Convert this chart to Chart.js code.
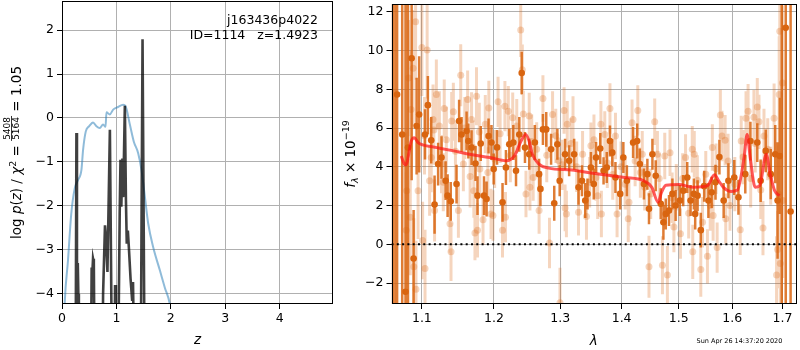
<!DOCTYPE html>
<html>
<head>
<meta charset="utf-8">
<script src="https://cdn.jsdelivr.net/npm/chart.js@4.4.1/dist/chart.umd.min.js"></script>
<style>
  html, body { margin: 0; padding: 0; background: #fff; }
  #wrap { position: relative; width: 800px; height: 350px; }
  #pz { position: absolute; left: 0; top: 0; }
  #sp { position: absolute; left: 340px; top: 0; }
</style>
</head>
<body>
<div id="wrap">
  <canvas id="pz" width="340" height="350"></canvas>
  <canvas id="sp" width="460" height="350"></canvas>
</div>
<script>
// ---- left panel: log p(z) ----
const zTicks = [0, 1, 2, 3, 4];
const logpTicks = [-4, -3, -2, -1, 0, 1, 2];

const zBlue = [0.03, 0.05, 0.11, 0.17, 0.234, 0.295, 0.357, 0.387, 0.436, 0.497,
  0.571, 0.633, 0.694, 0.755, 0.80, 0.817, 0.878, 0.94, 1.03, 1.123,
  1.167, 1.247, 1.32, 1.4, 1.46, 1.52, 1.584, 1.676, 1.8, 1.89, 1.983, 2.02];
const logpBlue = [-5, -4.2, -3.24, -2.18, -1.6, -1.41, -1.18, -0.73, -0.31, -0.19,
  -0.1, -0.19, -0.23, -0.15, -0.2, 0.13, 0.08, 0.19, 0.25, 0.3,
  0.27, -0.15, -0.54, -0.8, -1.18, -1.76, -2.4, -2.94, -3.47, -3.86, -4.24, -4.6];

const zDark = [0, 0.25, 0.265, 0.275, 0.28, 0.29, 0.30, 0.31, 0.53, 0.545,
  0.555, 0.57, 0.585, 0.60, 0.74, 0.755, 0.79, 0.81, 0.835, 0.88,
  0.92, 0.965, 0.975, 0.99, 1.03, 1.06, 1.075, 1.09, 1.11, 1.125,
  1.155, 1.175, 1.19, 1.21, 1.23, 1.26, 1.29, 1.305, 1.33, 1.452,
  1.48, 1.512, 4.98];
const logpDark = [-6, -6, -0.34, -3.24, -3.9, -3.3, -4.0, -6, -6, -3.4,
  -3.6, -3.2, -3.3, -6, -6, -4.0, -2.44, -2.75, -3.5, -0.27,
  -6, -6, -3.8, -6, -6, -2.2, -0.95, -2.02, -0.92, -1.8,
  0.28, -1.87, -2.86, -2.56, -2.97, -3.66, -4.16, -3.73, -6, -4.6,
  1.79, -4.6, -6];

// ---- right panel: spectrum ----
const lamTicks = [1.1, 1.2, 1.3, 1.4, 1.5, 1.6, 1.7];
const fluxTicks = [-2, 0, 2, 4, 6, 8, 10, 12];

const lamHi = [1.0621, 1.0654, 1.0676, 1.0742, 1.0785, 1.0817, 1.0865, 1.0891, 1.093, 1.0964,
  1.1042, 1.108, 1.1125, 1.117, 1.1218, 1.1264, 1.132, 1.1347, 1.139, 1.147,
  1.1506, 1.154, 1.161, 1.1635, 1.168, 1.1736, 1.1764, 1.181, 1.1857, 1.1894,
  1.1922, 1.1964, 1.1996, 1.2045, 1.2125, 1.2175, 1.2224, 1.2284, 1.2324, 1.2373,
  1.2409, 1.2458, 1.2522, 1.2607, 1.2672, 1.2693, 1.2731, 1.2782, 1.2857, 1.2906,
  1.2955, 1.2991, 1.3076, 1.314, 1.322, 1.329, 1.3345, 1.3398, 1.3435, 1.349,
  1.3537, 1.3574, 1.3643, 1.3698, 1.3751, 1.3804, 1.3843, 1.3896, 1.3976, 1.4029,
  1.4089, 1.4195, 1.4265, 1.4311, 1.4382, 1.4442, 1.447, 1.453, 1.4588, 1.4677,
  1.4724, 1.4766, 1.4824, 1.4885, 1.4943, 1.5019, 1.508, 1.5154, 1.5215, 1.5276,
  1.5300, 1.5344, 1.5404, 1.5467, 1.5546, 1.5607, 1.568, 1.5754, 1.5835, 1.5926,
  1.6039, 1.612, 1.6254, 1.6355, 1.6491, 1.6558, 1.666, 1.6761, 1.6852, 1.69,
  1.6945, 1.6985, 1.7067, 1.7168];
const fluxHi = [14, -4, 7.73, 5.67, -2.45, 4.99, 9.6, -0.73, 6.1, 6.7,
  5.67, 7.18, 5.37, 2.05, 4.14, 4.48, 3.28, 2.51, 2.22, 3.11,
  6.36, 5.67, 5.85, 5.33, 4.99, 4.17, 2.51, 5.2, 2.51, 2.34,
  5.59, 5.25, 3.88, 5.0, 2.17, 3.96, 5.16, 5.25, 3.79, 5.67,
  8.84, 4.99, 4.65, 5.25, 3.62, 2.86, 5.93, 5.93, 4.9, 2.12,
  5.16, 3.28, 4.65, 4.31, 4.65, 2.94, 3.28, 2.26, 2.6, 3.96,
  3.11, 4.48, 4.94, 3.79, 3.96, 5.33, 4.73, 3.45, 2.6, 4.48,
  3.28, 5.25, 5.33, 4.14, 3.11, 3.62, 1.83, 4.65, 3.54, 2.09,
  1.14, 1.57, 1.74, 2.6, 2.0, 2.26, 2.77, 3.45, 2.26, 2.6,
  1.57, 2.51, 0.73, 3.0, 2.26, 2.68, 3.2, 4.5, 2.26, 3.28,
  3.45, 2.43, 3.62, 5.33, 5.25, 3.28, 4.82, 3.62, 4.65, 2.26,
  4.56, -4, 11.17, 1.69];
const errHi = [20, 20, 20, 20, 20, 20, 6.3, 2.5, 2.5, 3.0,
  1.3, 1.5, 1.2, 1.5, 1.1, 1.1, 1.0, 1.1, 1.0, 1.0,
  1.1, 0.9, 1.0, 0.9, 0.9, 0.9, 1.0, 0.9, 1.0, 0.9,
  0.9, 0.9, 0.8, 0.9, 1.0, 0.9, 0.8, 0.9, 0.8, 0.9,
  1.1, 0.8, 0.8, 0.9, 0.8, 0.9, 0.8, 0.9, 0.8, 0.9,
  0.8, 0.8, 0.8, 0.8, 0.8, 0.9, 0.8, 0.9, 0.8, 0.8,
  0.8, 0.8, 0.8, 0.7, 0.8, 0.8, 0.7, 0.8, 0.8, 0.8,
  0.8, 0.8, 0.9, 0.8, 0.8, 0.8, 0.8, 0.8, 0.8, 0.8,
  0.9, 0.8, 0.8, 0.8, 0.8, 0.8, 0.8, 0.8, 0.8, 0.8,
  0.8, 0.8, 0.9, 0.8, 0.9, 0.8, 0.9, 0.9, 0.9, 0.9,
  0.9, 0.9, 1.0, 1.0, 1.0, 1.1, 1.1, 1.3, 1.5, 3.0,
  3.0, 20, 20, 20];

const lamLo = [1.0801, 1.0795, 1.0825, 1.0847, 1.0857, 1.0885, 1.0894, 1.0917, 1.0922, 1.095,
  1.1, 1.101, 1.1042, 1.107, 1.1103, 1.1125, 1.1149, 1.117, 1.1194, 1.1264,
  1.1288, 1.1301, 1.138, 1.1394, 1.1403, 1.1426, 1.1496, 1.1528, 1.1565, 1.1625,
  1.168, 1.1704, 1.1712, 1.1728, 1.175, 1.1764, 1.1797, 1.1843, 1.1912, 1.1926,
  1.1958, 1.1986, 1.206, 1.2125, 1.216, 1.2168, 1.221, 1.2275, 1.2394, 1.2418,
  1.2433, 1.2473, 1.2522, 1.2533, 1.2582, 1.2672, 1.2731, 1.2832, 1.288, 1.2976,
  1.2996, 1.306, 1.3076, 1.3097, 1.311, 1.3202, 1.329, 1.3355, 1.3418, 1.349,
  1.3574, 1.3601, 1.3654, 1.3662, 1.3718, 1.3804, 1.3896, 1.3923, 1.4112, 1.4125,
  1.4177, 1.4276, 1.4353, 1.4395, 1.447, 1.457, 1.4618, 1.4707, 1.4748, 1.4795,
  1.4842, 1.4912, 1.4955, 1.503, 1.5123, 1.5246, 1.5255, 1.5283, 1.5404, 1.5436,
  1.5497, 1.5528, 1.562, 1.5635, 1.5711, 1.5772, 1.5803, 1.5863, 1.5875, 1.5956,
  1.6155, 1.6174, 1.6268, 1.6309, 1.6424, 1.6491, 1.6525, 1.6605, 1.6625, 1.6761,
  1.6829, 1.6879, 1.69, 1.6917, 1.6933, 1.6945, 1.6955, 1.7, 1.7008,
  1.1035, 1.1160, 1.1235, 1.1330, 1.1455, 1.1585, 1.1660, 1.1790, 1.1875, 1.2010,
  1.2090, 1.2240, 1.2335, 1.2560, 1.2635, 1.2790, 1.2930, 1.3030, 1.3170, 1.3260,
  1.3470, 1.3540, 1.3760, 1.3850, 1.3990, 1.4060, 1.4230, 1.4320, 1.4500, 1.4650,
  1.4880, 1.5070, 1.5180, 1.5340, 1.5580, 1.5690, 1.5920, 1.6050, 1.6210, 1.6360,
  1.6450, 1.6560, 1.6700];
const fluxLo = [2.77, 0.72, 8.58, 1.4, 6.96, 9.09, -1.16, 11.49, -2.32, 2.77,
  10.15, 0.2, -1.25, 10.03, 3.28, 4.48, 6.44, 1.74, 7.73, 4.14,
  3.2, 7.01, 1.06, -0.39, 6.36, 6.84, 1.74, 8.72, 4.14, 7.47,
  6.44, 4.99, 2.77, 0.58, 7.64, 0.72, 3.88, 1.27, 3.71, 7.04,
  1.57, 1.49, 7.35, 0.72, 7.13, 1.4, 6.87, 6.53, 11.06, 9.01,
  6.73, 2.6, 6.62, 2.94, 3.45, 1.74, 7.52, 0.07, 6.7, 4.31,
  -3.01, 6.91, 1.88, 1.57, 6.19, 6.44, 1.66, 4.65, 1.44, 5.08,
  3.45, 2.51, 6.19, 1.57, 5.67, 7.01, 5.59, 1.57, 1.32, 2.17,
  6.27, 6.91, 4.65, 2.94, -1.16, 6.32, 4.65, -1.08, 4.56, -1.59,
  4.73, 0.89, 2.94, 0.55, 4.48, 4.9, -0.39, 4.65, -1.3, 1.14,
  3.62, -0.62, 4.99, 1.49, -0.17, 6.67, 5.59, 5.37, 1.32, 2.0,
  0.75, 5.33, 6.5, 6.87, 6.56, 7.08, 6.32, 0.84, 5.59, 3.54,
  6.5, -1.59, -0.27, 2.6, 7.73, 11.0, -0.99, 8.32, 2.26,
  5.6, 5.9, 6.1, 5.4, 4.8, 6.0, 3.5, 5.8, 6.2, 4.4,
  5.7, 4.6, 6.1, 5.3, 4.9, 4.6, 5.6, 4.1, 5.2, 4.0,
  3.2, 5.4, 4.2, 3.6, 4.0, 3.1, 4.3, 3.7, 2.6, 3.4,
  2.4, 3.4, 1.6, 3.3, 2.0, 3.9, 4.3, 3.1, 4.5, 3.4,
  5.2, 2.8, 4.9];
const errLo = [3.0, 3.0, 3.0, 3.0, 3.0, 3.0, 2.5, 3.0, 2.5, 2.5,
  2.5, 2.0, 2.0, 2.5, 1.8, 1.8, 1.8, 1.6, 1.8, 1.5,
  1.5, 1.5, 1.5, 1.5, 1.5, 1.5, 1.4, 1.6, 1.4, 1.5,
  1.4, 1.4, 1.4, 1.4, 1.5, 1.4, 1.3, 1.3, 1.3, 1.4,
  1.3, 1.3, 1.3, 1.4, 1.3, 1.3, 1.3, 1.3, 1.4, 1.3,
  1.2, 1.2, 1.2, 1.2, 1.2, 1.2, 1.2, 1.3, 1.2, 1.2,
  1.8, 1.2, 1.2, 1.2, 1.2, 1.2, 1.2, 1.2, 1.2, 1.2,
  1.2, 1.2, 1.2, 1.2, 1.2, 1.3, 1.2, 1.2, 1.2, 1.2,
  1.2, 1.3, 1.2, 1.2, 1.6, 1.2, 1.2, 1.5, 1.2, 1.5,
  1.2, 1.3, 1.2, 1.3, 1.2, 1.2, 1.4, 1.2, 1.4, 1.3,
  1.2, 1.4, 1.2, 1.3, 1.3, 1.3, 1.3, 1.3, 1.3, 1.3,
  1.3, 1.3, 1.4, 1.4, 1.4, 1.5, 1.4, 1.4, 1.4, 1.5,
  1.8, 2.0, 2.0, 2.5, 3.0, 4.0, 3.0, 4.0, 4.0,
  2.0, 1.8, 1.8, 1.7, 1.6, 1.6, 1.6, 1.5, 1.5, 1.5,
  1.5, 1.4, 1.4, 1.4, 1.4, 1.4, 1.4, 1.3, 1.3, 1.3,
  1.3, 1.3, 1.3, 1.3, 1.3, 1.3, 1.3, 1.3, 1.3, 1.3,
  1.3, 1.3, 1.3, 1.3, 1.3, 1.3, 1.4, 1.4, 1.4, 1.5,
  1.5, 1.5, 1.6];

const lamModel = [1.073, 1.077, 1.079, 1.086, 1.090, 1.095, 1.101, 1.120, 1.143, 1.165,
  1.194, 1.218, 1.230, 1.240, 1.247, 1.252, 1.257, 1.267, 1.282, 1.318,
  1.352, 1.405, 1.438, 1.452, 1.463, 1.469, 1.477, 1.500, 1.526, 1.553,
  1.566, 1.574, 1.583, 1.598, 1.610, 1.623, 1.629, 1.635, 1.645, 1.654,
  1.667, 1.675, 1.684, 1.694];
const fluxModel = [4.56, 4.14, 4.10, 5.33, 5.50, 5.25, 5.13, 4.99, 4.82, 4.65,
  4.48, 4.31, 4.56, 5.33, 5.67, 5.33, 4.65, 4.14, 3.93, 3.83,
  3.67, 3.45, 3.28, 2.94, 2.17, 2.68, 3.05, 3.08, 2.95, 3.03,
  3.59, 3.28, 2.94, 2.73, 2.80, 4.48, 5.67, 4.48, 2.94, 3.03,
  4.65, 3.62, 2.77, 2.51];

const stamp = "Sun Apr 26 14:37:20 2020";

// ---- helpers ----
const FONT = "DejaVu Sans";
const TICK = 12.5;
const ORANGE = "rgb(217,101,16)";

function pts(xs, ys) {
  return xs.map((x, i) => ({ x: x, y: ys[i] }));
}

function errSegments(xs, ys, es) {
  const d = [];
  for (let i = 0; i < xs.length; i++) {
    d.push({ x: xs[i], y: ys[i] - es[i] });
    d.push({ x: xs[i], y: ys[i] + es[i] });
    d.push({ x: xs[i], y: null });
  }
  return d;
}

function minus(v) {
  return String(v).replace("-", "\u2212");
}

// fixed-size axes, no extra padding for edge labels
function fixSize(w, h) {
  return (s) => {
    if (w !== null) s.width = w;
    if (h !== null) s.height = h;
    s.paddingTop = 0; s.paddingBottom = 0;
    s.paddingLeft = 0; s.paddingRight = 0;
  };
}

function axisStyle(extra) {
  return Object.assign({
    grid: { color: "#b0b0b0", lineWidth: 1, tickColor: "#000", tickLength: 5, tickWidth: 1 },
    border: { display: false }
  }, extra);
}

function tickOpts(pad, cb) {
  return { color: "#000", font: { family: FONT, size: TICK }, padding: pad,
    autoSkip: false, maxRotation: 0, minRotation: 0, callback: cb };
}

// draw pieces of "math" text along a baseline; returns total width
function runPieces(ctx, pieces, x0, draw) {
  let x = x0;
  for (const p of pieces) {
    if (p.frac) {
      ctx.font = p.size + "px " + FONT;
      const w = Math.max(ctx.measureText(p.num).width, ctx.measureText(p.den).width) + 2;
      if (draw) {
        ctx.textAlign = "center";
        ctx.fillText(p.num, x + w / 2, p.numDy);
        ctx.fillText(p.den, x + w / 2, p.denDy);
        ctx.fillRect(x, p.barDy - 0.4, w, 0.8);
        ctx.textAlign = "left";
      }
      x += w;
      continue;
    }
    ctx.font = (p.it ? "italic " : "") + (p.size || 13.5) + "px " + FONT;
    if (draw) ctx.fillText(p.t, x, p.dy || 0);
    x += ctx.measureText(p.t).width;
  }
  return x - x0;
}

function verticalLabel(ctx, pieces, bx, cy) {
  ctx.save();
  ctx.translate(bx, cy);
  ctx.rotate(-Math.PI / 2);
  ctx.fillStyle = "#000";
  ctx.textBaseline = "alphabetic";
  ctx.textAlign = "left";
  const w = runPieces(ctx, pieces, 0, false);
  runPieces(ctx, pieces, -w / 2, true);
  ctx.restore();
}

const frame = {
  id: "frame",
  afterDatasetsDraw(chart) {
    const a = chart.chartArea;
    const ctx = chart.ctx;
    ctx.save();
    ctx.strokeStyle = "#000";
    ctx.lineWidth = 1;
    ctx.strokeRect(Math.round(a.left) + 0.5, Math.round(a.top) + 0.5,
      Math.round(a.right - a.left) - 1, Math.round(a.bottom - a.top) - 1);
    ctx.restore();
  }
};

Chart.defaults.font.family = FONT;

// ---- left chart ----
const pzLabels = {
  id: "pzLabels",
  afterDraw(chart) {
    const ctx = chart.ctx;
    ctx.save();
    ctx.fillStyle = "#000";
    ctx.font = "12.5px " + FONT;
    ctx.textAlign = "right";
    ctx.textBaseline = "alphabetic";
    ctx.fillText("j163436p4022", 318, 24);
    ctx.fillText("ID=1114   z=1.4923", 318, 39);
    ctx.textAlign = "center";
    ctx.font = "italic 13.5px " + FONT;
    ctx.fillText("z", (chart.chartArea.left + chart.chartArea.right) / 2, 344);
    ctx.restore();
    verticalLabel(ctx, [
      { t: "log " }, { t: "p", it: true }, { t: "(" }, { t: "z", it: true }, { t: ") / " },
      { t: "\u03c7", it: true }, { t: "2", size: 9.5, dy: -5.5 }, { t: " = " },
      { frac: true, num: "5408", den: "5164", size: 9, numDy: -10.8, denDy: -2.2, barDy: -9.6 },
      { t: " = 1.05" }
    ], 21, (chart.chartArea.top + chart.chartArea.bottom) / 2);
  }
};

new Chart(document.getElementById("pz"), {
  type: "line",
  data: {
    datasets: [
      { data: pts(zDark, logpDark), borderColor: "rgba(0,0,0,0.75)", borderWidth: 2.6,
        pointRadius: 0, tension: 0, clip: 0, order: 1 },
      { data: pts(zBlue, logpBlue), borderColor: "rgba(31,119,180,0.5)", borderWidth: 2,
        pointRadius: 0, cubicInterpolationMode: "monotone", clip: 0, order: 2 }
    ]
  },
  options: {
    responsive: false,
    animation: false,
    devicePixelRatio: 1,
    layout: { padding: { left: 0, top: 1, right: 7, bottom: 0 } },
    plugins: { legend: { display: false }, tooltip: { enabled: false } },
    scales: {
      x: axisStyle({
        type: "linear", min: 0, max: 4.98,
        afterBuildTicks: (s) => { s.ticks = zTicks.map((v) => ({ value: v })); },
        afterFit: fixSize(null, 46),
        ticks: tickOpts(2, (v) => minus(v))
      }),
      y: axisStyle({
        type: "linear", min: -4.23, max: 2.66,
        afterBuildTicks: (s) => { s.ticks = logpTicks.map((v) => ({ value: v })); },
        afterFit: fixSize(62, null),
        ticks: tickOpts(3, (v) => minus(v))
      })
    }
  },
  plugins: [frame, pzLabels]
});

// ---- right chart ----
const spLabels = {
  id: "spLabels",
  afterDraw(chart) {
    const ctx = chart.ctx;
    ctx.save();
    ctx.fillStyle = "#000";
    ctx.textAlign = "center";
    ctx.textBaseline = "alphabetic";
    ctx.font = "italic 13.5px " + FONT;
    ctx.fillText("\u03bb", (chart.chartArea.left + chart.chartArea.right) / 2, 345);
    ctx.textAlign = "left";
    ctx.font = "6.5px " + FONT;
    ctx.fillText(stamp, 356.5, 342.5);
    ctx.restore();
    verticalLabel(ctx, [
      { t: "f", it: true }, { t: "\u03bb", it: true, size: 9.5, dy: 3 }, { t: " \u00d7 10" },
      { t: "\u221219", size: 9.5, dy: -5.5 }
    ], 14.5, (chart.chartArea.top + chart.chartArea.bottom) / 2);
  }
};

const xMin = 1.0604, xMax = 1.728;

new Chart(document.getElementById("sp"), {
  type: "line",
  data: {
    datasets: [
      { data: [{ x: xMin, y: 0 }, { x: xMax, y: 0 }], borderColor: "#000", borderWidth: 2,
        borderDash: [2, 3.3], pointRadius: 0, clip: 0, order: 1 },
      { data: pts(lamModel, fluxModel), borderColor: "rgba(255,20,20,0.7)", borderWidth: 3,
        pointRadius: 0, cubicInterpolationMode: "monotone", clip: 0, order: 2 },
      { data: pts(lamHi, fluxHi), showLine: false, pointRadius: 3.3, pointBorderWidth: 0,
        pointBackgroundColor: ORANGE, clip: 0, order: 3 },
      { data: errSegments(lamHi, fluxHi, errHi), borderColor: "rgba(217,101,16,0.85)", borderWidth: 2.5,
        borderCapStyle: "butt", pointRadius: 0, spanGaps: false, tension: 0, clip: 0, order: 4 },
      { data: pts(lamLo, fluxLo), showLine: false, pointRadius: 3.5, pointBorderWidth: 0,
        pointBackgroundColor: "rgba(217,101,16,0.27)", clip: 0, order: 5 },
      { data: errSegments(lamLo, fluxLo, errLo), borderColor: "rgba(217,101,16,0.27)", borderWidth: 3,
        borderCapStyle: "butt", pointRadius: 0, spanGaps: false, tension: 0, clip: 0, order: 6 }
    ]
  },
  options: {
    responsive: false,
    animation: false,
    devicePixelRatio: 1,
    layout: { padding: { left: 0, top: 1, right: 1, bottom: 0 } },
    plugins: { legend: { display: false }, tooltip: { enabled: false } },
    scales: {
      x: axisStyle({
        type: "logarithmic", min: xMin, max: xMax,
        afterBuildTicks: (s) => { s.ticks = lamTicks.map((v) => ({ value: v })); },
        afterFit: fixSize(null, 46),
        ticks: tickOpts(2, (v) => Number(v).toFixed(1))
      }),
      y: axisStyle({
        type: "linear", min: -3.08, max: 12.4,
        afterBuildTicks: (s) => { s.ticks = fluxTicks.map((v) => ({ value: v })); },
        afterFit: fixSize(51.5, null),
        ticks: tickOpts(3, (v) => minus(v))
      })
    }
  },
  plugins: [frame, spLabels]
});
</script>
</body>
</html>
